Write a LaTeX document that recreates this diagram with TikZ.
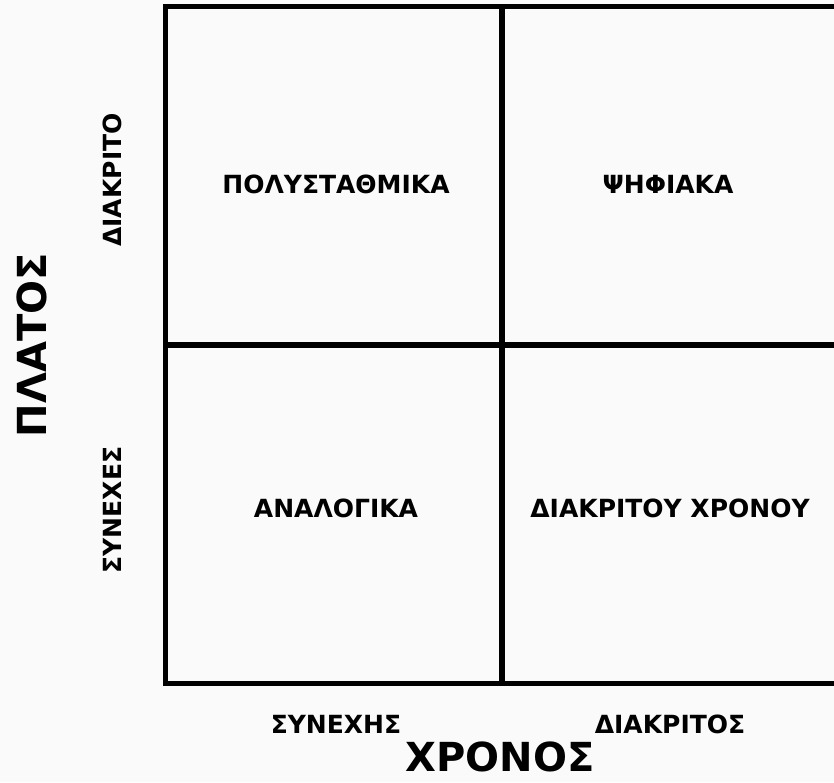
\documentclass[tikz,border=0pt]{standalone}
\usepackage{fontspec}
\setmainfont{DejaVu Sans}
\usetikzlibrary{positioning}

\begin{document}
\begin{tikzpicture}[x=1pt, y=-1pt,
    celula/.style={draw, line width=5.5pt, minimum width=336.5pt, minimum height=338.5pt, outer sep=0pt, inner sep=0pt},
    rotulo/.style={font=\bfseries\fontsize{25}{30}\selectfont},
    titulo/.style={font=\bfseries\fontsize{40}{48}\selectfont}
  ]
  \useasboundingbox[fill=gray!4] (0,0) rectangle (834,782);

  % Os quatro quadrantes
  \node[celula, anchor=north west] (polu) at (165.5,6.5) {};
  \node[celula, right=0pt of polu] (psif) {};
  \node[celula, below=0pt of polu] (anal) {};
  \node[celula, below=0pt of psif] (diak) {};

  % Nomes dos sinais
  \node[rotulo] (tpolu) at (336,184) {ΠΟΛΥΣΤΑΘΜΙΚΑ};
  \node[rotulo] (tpsif) at (668,184) {ΨΗΦΙΑΚΑ};
  \node[rotulo] (tanal) at (336,508) {ΑΝΑΛΟΓΙΚΑ};
  \node[rotulo] (tdiak) at (670,508) {ΔΙΑΚΡΙΤΟΥ ΧΡΟΝΟΥ};

  % Eixo vertical
  \node[rotulo, rotate=90] (diakrito) at (112,180) {ΔΙΑΚΡΙΤΟ};
  \node[rotulo, rotate=90] (synexes) at (112,510) {ΣΥΝΕΧΕΣ};
  \node[titulo, rotate=90] (platos) at (32,345) {ΠΛΑΤΟΣ};

  % Eixo horizontal
  \node[rotulo] (synexis) at (336,724) {ΣΥΝΕΧΗΣ};
  \node[rotulo] (diakritos) at (670,724) {ΔΙΑΚΡΙΤΟΣ};
  \node[titulo] (xronos) at (500,757) {ΧΡΟΝΟΣ};
\end{tikzpicture}
\end{document}
